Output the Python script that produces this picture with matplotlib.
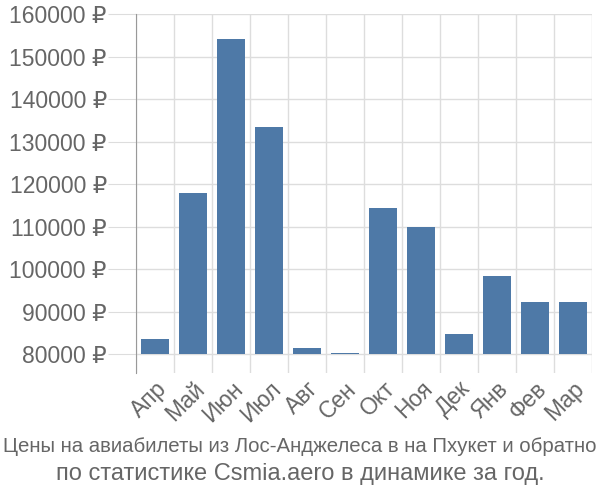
import matplotlib
matplotlib.use('Agg')
import matplotlib.pyplot as plt
from matplotlib import font_manager
from matplotlib.ticker import FuncFormatter, MultipleLocator

# Données du graphique
months = ['Апр', 'Май', 'Июн', 'Июл', 'Авг', 'Сен', 'Окт', 'Ноя', 'Дек', 'Янв', 'Фев', 'Мар']
prices = [83500, 117900, 154100, 133500, 81400, 80200, 114300, 110000, 84700, 98300, 92300, 92300]
base = 80000

title_line1 = 'Цены на авиабилеты из Лос-Анджелеса в на Пхукет и обратно'
title_line2 = 'по статистике Csmia.aero в динамике за год.'

plt.rcParams['font.family'] = ['Liberation Sans', 'DejaVu Sans']

# Police étroite pour la première ligne si elle existe
names = {f.name for f in font_manager.fontManager.ttflist}
if 'Liberation Sans Narrow' in names:
    narrow_family = ['Liberation Sans Narrow', 'DejaVu Sans']
    narrow_size = 17
else:
    narrow_family = ['Liberation Sans', 'DejaVu Sans']
    narrow_size = 14.7

fig = plt.figure(figsize=(6, 5), dpi=100)
ax = fig.add_axes([136 / 600, 1 - 373 / 500, 456 / 600, 359 / 500])

x = range(len(months))
ax.bar(x, [p - base for p in prices], bottom=base, width=0.72,
       color='#4e79a7', zorder=3)

ax.set_xlim(-0.5, len(months) - 0.5)
ax.set_ylim(75530, 160000)
ax.yaxis.set_major_locator(MultipleLocator(10000))
ax.yaxis.set_major_formatter(FuncFormatter(lambda v, p: f'{int(v)} ₽'))

# Lignes verticales entre les catégories
ax.set_xticks([i - 0.5 for i in range(len(months) + 1)], minor=False)
ax.set_xticklabels([])
ax.set_xticks(list(x), minor=True)
ax.set_xticklabels(months, minor=True, rotation=45, ha='right',
                   rotation_mode='anchor', fontsize=16.5, color='#666666')
ax.tick_params(axis='x', which='minor', length=0, pad=3)
ax.tick_params(axis='x', which='major', length=0)
ax.tick_params(axis='y', length=20, color='#dddddd', labelsize=16.5,
               labelcolor='#666666', pad=1)

ax.grid(True, which='major', color='#dddddd', linewidth=1, zorder=0)
for side in ['top', 'right', 'bottom']:
    ax.spines[side].set_visible(False)
ax.spines['left'].set_color('#999999')

fig.text(0.5, 1 - 447 / 500, title_line1, ha='center', va='center',
         fontsize=narrow_size, color='#666666', family=narrow_family)
fig.text(0.5, 1 - 474 / 500, title_line2, ha='center', va='center',
         fontsize=17, color='#666666')

fig.savefig('out.png', dpi=100)
